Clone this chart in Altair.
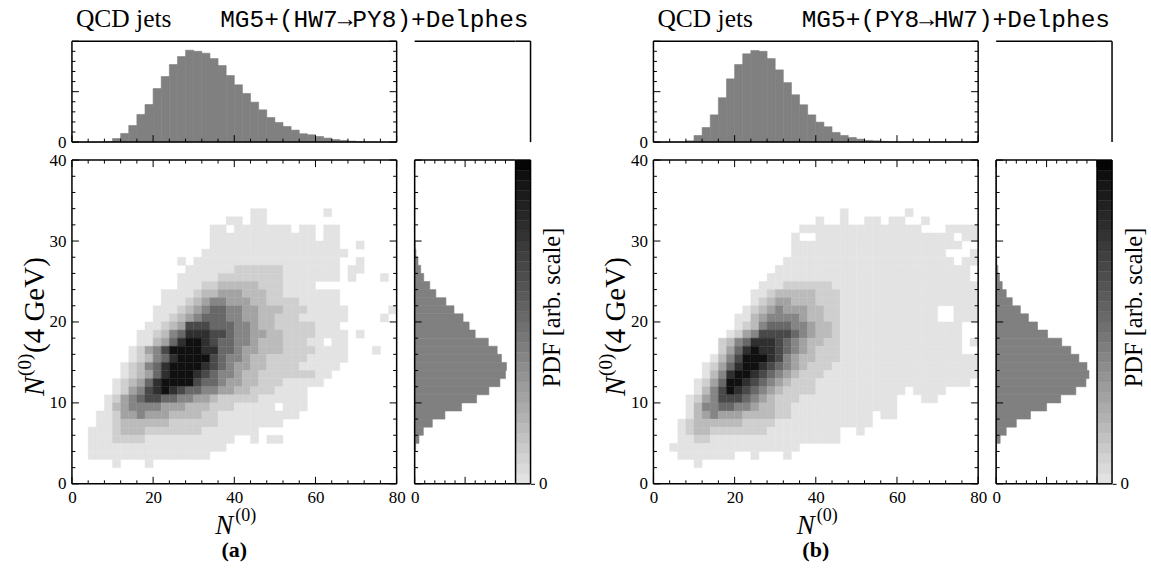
import altair as alt
import pandas as pd

SERIF = "Liberation Serif"
MONO = "Liberation Mono"

# ---------------- data ----------------
# grey levels of the 2D histogram cells (0 = empty, 9 = black)
LEVELS = [0.0, 0.01, 0.09, 0.17, 0.27, 0.39, 0.52, 0.66, 0.79, 0.95]

# rows from N(4GeV)=39..40 (top) down to 0..1 (bottom); 40 columns of width 2 in N
HEAT_A = [
    "0000000000000000000000000000000000000000",
    "0000000000000000000000000000000000000000",
    "0000000000000000000000000000000000000000",
    "0000000000000000000000000000000000000000",
    "0000000000000000000000000000000000000000",
    "0000000000000000000000000000000000000000",
    "0000000000000000000000110000000100000000",
    "0000000000000000000110110000000000000000",
    "0000000000000000011011111110110110000000",
    "0000000000000000011111111111110110000000",
    "0000000000000000011111111111111110010000",
    "0000000000000000111111111111111111000000",
    "0000000000000101111111111111111110010000",
    "0000000000000011111122222211111110110000",
    "0000000000000111112222222211111110100010",
    "0000000000000111223333322211110000000000",
    "0000000000011112334443332211111110000000",
    "0000000000011123455444332222111110000000",
    "0000000000111234566554433322211111000001",
    "0000000000112345666554433222111111000010",
    "0000000001123477766655433222221110000000",
    "0000000011235688877655443322221111010000",
    "0000000011346899876655433322211011000000",
    "0000000124579999886654433322221111000100",
    "0000000123568999976554332222211111000000",
    "0000001235689999876544332222111110000000",
    "0000001234689998765543322222221100000000",
    "0000012346899997665443322211111000000000",
    "0000012457898766554433222111100000000000",
    "0000124567766554432222211111100000000000",
    "0000134555544433322211111011100000000000",
    "0001124454443333221111111111000000000000",
    "0001123333332222221111111100000000000000",
    "0011123332222222111111100000000000000000",
    "0011122221111111111100101100000000000000",
    "0011111111111111111000000000000000000000",
    "0011111111111111100000000000000000000000",
    "0000010001000000000000000000000000000000",
    "0000000000000000000000000000000000000000",
    "0000000000000000000000000000000000000000",
]

HEAT_B = [
    "0000000000000000000000000000000000000000",
    "0000000000000000000000000000000000000000",
    "0000000000000000000000000000000000000000",
    "0000000000000000000000000000000000000000",
    "0000000000000000000000000000000000000000",
    "0000000000000000000000000000000000000000",
    "0000000000000000000000010000000100000000",
    "0000000000000000000010010011011001000000",
    "0000000000000000001111111111111110001111",
    "0000000000000000010011111111111111111011",
    "0000000000000000011111111111111111111100",
    "0000000000000000011111111111111111110001",
    "0000000000000000111111111111111111111011",
    "0000000000000001111111111111111111111110",
    "0000000000000011111111111111111111111110",
    "0000000000000111222222111111111111111111",
    "0000000000001123333322211111111111111111",
    "0000000000001234433322211111111111111111",
    "0000000000012345444332211111111111100111",
    "0000000000113455554332211111111111100111",
    "0000000000123566655433211111111111111100",
    "0000000001245777765433211111111111111100",
    "0000000023568887654332211111111111111101",
    "0000000024689887654322211111111111111100",
    "0000000135799987543322211111111111111111",
    "0000001246899876543222111111111111111111",
    "0000001358998765432221111111111111111111",
    "0000012469987654322211111111111111111110",
    "0000013579876543222211111111111011110000",
    "0000124577765432221111111111110001100000",
    "0000135566554332211111111111110000000000",
    "0000134544433332211111111110110000000000",
    "0001233333322221111111111110000000000000",
    "0001233222222211111111100100000000000000",
    "0001122111111111111111100000000000000000",
    "0011111111111111110000000000000000000000",
    "0001111111001000100000000000000000000000",
    "0000010000000000000000000000000000000000",
    "0000000000000000000000000000000000000000",
    "0000000000000000000000000000000000000000",
]

# marginal histograms (fraction of the panel height / width), 40 bins each
TOP_A = [0, 0, 0, 0, 0.007, 0.036, 0.086, 0.165, 0.274, 0.373,
         0.531, 0.65, 0.769, 0.848, 0.911, 0.90, 0.881, 0.828, 0.759, 0.66,
         0.568, 0.482, 0.396, 0.32, 0.244, 0.195, 0.155, 0.119, 0.083, 0.073,
         0.056, 0.04, 0.026, 0.017, 0.01, 0.004, 0, 0, 0, 0]
TOP_B = [0, 0, 0, 0, 0.013, 0.066, 0.145, 0.27, 0.44, 0.627,
         0.769, 0.875, 0.908, 0.90, 0.828, 0.716, 0.59, 0.469, 0.37, 0.27,
         0.198, 0.152, 0.096, 0.066, 0.046, 0.03, 0.017, 0.013, 0.007, 0.003,
         0, 0, 0, 0, 0, 0, 0, 0, 0, 0]
RIGHT_A = [0, 0, 0, 0, 0.01, 0.043, 0.086, 0.175, 0.30, 0.465,
           0.614, 0.736, 0.845, 0.90, 0.91, 0.86, 0.818, 0.73, 0.60, 0.54,
           0.48, 0.39, 0.31, 0.21, 0.15, 0.09, 0.06, 0.033, 0.013, 0.005,
           0, 0, 0, 0, 0, 0, 0, 0, 0, 0]
RIGHT_B = [0, 0, 0, 0, 0.005, 0.04, 0.10, 0.20, 0.34, 0.50,
           0.64, 0.79, 0.89, 0.92, 0.90, 0.82, 0.74, 0.65, 0.51, 0.41,
           0.32, 0.24, 0.16, 0.10, 0.06, 0.033, 0.017, 0.007, 0.003, 0,
           0, 0, 0, 0, 0, 0, 0, 0, 0, 0]

X_BIN_W = 2
Y_BIN_W = 1
X_DOM = [0, 80]
Y_DOM = [0, 40]
M_DOM = [0, 1]

X_MAJOR = [0, 20, 40, 60, 80]
X_MINOR = [4, 8, 12, 16, 24, 28, 32, 36, 44, 48, 52, 56, 64, 68, 72, 76]
Y_MAJOR = [0, 10, 20, 30, 40]
Y_MINOR = [2, 4, 6, 8, 12, 14, 16, 18, 22, 24, 26, 28, 32, 34, 36, 38]
M_MAJOR = [0, 0.5, 1.0]
M_MINOR = [0.1, 0.2, 0.3, 0.4, 0.6, 0.7, 0.8, 0.9]

TITLES = ["MG5+(HW7\u2192PY8)+Delphes", "MG5+(PY8\u2192HW7)+Delphes"]
LABELS = ["(a)", "(b)"]
CBAR_TITLE = "PDF [arb. scale]"

# ---------------- layout sizes ----------------
W, H = 325, 324      # main panel
HM = 101             # marginal size
CB = 15              # colour bar width
GAP = 18
PANEL_GAP = 123
MAJ, MIN = 7, 3.5
FRAME_W = 1.5
LBL = 17

GREY_SCALE = alt.Scale(domain=[0, 1], range=["#e6e6e6", "#000000"])
BAR_GREY = "#808080"
NO_STROKE = alt.ViewBackground(stroke=None)
ONE = pd.DataFrame({"a": [0]})


def lab_axis(values, pad, **kw):
    return alt.Axis(values=values, ticks=False, domain=False, grid=False,
                    labelPadding=pad, title=None, labelFlush=False,
                    labelFont=SERIF, labelFontSize=LBL, labelColor="black",
                    **kw)


AX_MAIN_X = lab_axis(X_MAJOR, 6)
AX_MAIN_Y = lab_axis(Y_MAJOR, 6)
AX_TOP_Y = lab_axis([0], 6)
AX_RIGHT_X = lab_axis([0], 6)


def heat_df(rows):
    recs = []
    n = len(rows)
    for k, row in enumerate(rows):
        y0 = (n - 1 - k) * Y_BIN_W
        for c, ch in enumerate(row):
            d = int(ch)
            if d:
                recs.append(dict(x0=c * X_BIN_W, x1=(c + 1) * X_BIN_W,
                                 y0=y0, y1=y0 + Y_BIN_W, v=LEVELS[d]))
    return pd.DataFrame(recs)


def xticks(vals, L, hgt, dom, side, axis=None):
    y, y2 = (hgt, hgt - L) if side == "bottom" else (0, L)
    return alt.Chart(pd.DataFrame({"x0": vals})).mark_rule(
        color="black", strokeWidth=1).encode(
        x=alt.X("x0:Q", scale=alt.Scale(domain=dom), axis=axis),
        y=alt.value(y), y2=alt.value(y2))


def yticks(vals, L, wid, dom, side, axis=None):
    x, x2 = (0, L) if side == "left" else (wid, wid - L)
    return alt.Chart(pd.DataFrame({"y0": vals})).mark_rule(
        color="black", strokeWidth=1).encode(
        y=alt.Y("y0:Q", scale=alt.Scale(domain=dom), axis=axis),
        x=alt.value(x), x2=alt.value(x2))


def txt(s, x, y, size, font=SERIF, style="normal", weight="normal",
        align="left", baseline="alphabetic", angle=0):
    return alt.Chart(pd.DataFrame({"t": [s]})).mark_text(
        font=font, fontSize=size, fontStyle=style, fontWeight=weight,
        align=align, baseline=baseline, angle=angle, color="black").encode(
        text="t:N", x=alt.value(x), y=alt.value(y))


def spacer(w, h):
    return alt.Chart(ONE).mark_point(opacity=0).encode(
        x=alt.value(0), y=alt.value(0)).properties(width=w, height=h,
                                                   view=NO_STROKE)


def hrule(x0, x1, y):
    return alt.Chart(ONE).mark_rule(color="black", strokeWidth=FRAME_W).encode(
        x=alt.value(x0), x2=alt.value(x1), y=alt.value(y))


def vrule(x, y0, y1):
    return alt.Chart(ONE).mark_rule(color="black", strokeWidth=FRAME_W).encode(
        x=alt.value(x), y=alt.value(y0), y2=alt.value(y1))


def frame(w, h, sides="tblr"):
    out = []
    if "t" in sides:
        out.append(hrule(0, w, 0))
    if "b" in sides:
        out.append(hrule(0, w, h))
    if "l" in sides:
        out.append(vrule(0, 0, h))
    if "r" in sides:
        out.append(vrule(w, 0, h))
    return out


def panel(heat_rows, top_vals, right_vals, title, label):
    # ---- top marginal ----
    tdf = pd.DataFrame({"x0": [i * X_BIN_W for i in range(40)],
                        "x1": [(i + 1) * X_BIN_W for i in range(40)],
                        "v": top_vals, "y0": [0] * 40})
    top_bars = alt.Chart(tdf).mark_rect(
        color=BAR_GREY, stroke=BAR_GREY, strokeWidth=0.6).encode(
        x=alt.X("x0:Q", scale=alt.Scale(domain=X_DOM), axis=None),
        x2="x1:Q",
        y=alt.Y("y0:Q", scale=alt.Scale(domain=M_DOM), axis=AX_TOP_Y),
        y2="v:Q")
    top = alt.layer(
        top_bars,
        xticks(X_MAJOR, MAJ, HM, X_DOM, "bottom"),
        xticks(X_MINOR, MIN, HM, X_DOM, "bottom"),
        yticks(M_MAJOR, MAJ, W, M_DOM, "left", AX_TOP_Y),
        yticks(M_MINOR, MIN, W, M_DOM, "left", AX_TOP_Y),
        yticks(M_MAJOR, MAJ, W, M_DOM, "right", AX_TOP_Y),
        yticks(M_MINOR, MIN, W, M_DOM, "right", AX_TOP_Y),
        *frame(W, HM),
        txt("QCD jets", 4, -14, 25.5),
        txt(title, 457, -14, 24.5, font=MONO, align="right"),
    ).properties(width=W, height=HM, view=NO_STROKE)

    corner_l = hrule(0, HM, 0).properties(width=HM, height=HM, view=NO_STROKE)
    corner_r = alt.layer(hrule(0, CB, 0), vrule(CB, 0, HM)).properties(
        width=CB, height=HM, view=NO_STROKE)

    # ---- main 2D histogram ----
    hdf = heat_df(heat_rows)
    heat = alt.Chart(hdf).mark_rect(strokeWidth=0.4).encode(
        x=alt.X("x0:Q", scale=alt.Scale(domain=X_DOM), axis=AX_MAIN_X),
        x2="x1:Q",
        y=alt.Y("y0:Q", scale=alt.Scale(domain=Y_DOM), axis=AX_MAIN_Y),
        y2="y1:Q",
        color=alt.Color("v:Q", scale=GREY_SCALE, legend=None),
        stroke=alt.Stroke("v:Q", scale=GREY_SCALE, legend=None))
    main = alt.layer(
        heat,
        xticks(X_MAJOR, MAJ, H, X_DOM, "bottom", AX_MAIN_X),
        xticks(X_MINOR, MIN, H, X_DOM, "bottom", AX_MAIN_X),
        xticks(X_MAJOR, MAJ, H, X_DOM, "top", AX_MAIN_X),
        xticks(X_MINOR, MIN, H, X_DOM, "top", AX_MAIN_X),
        yticks(Y_MAJOR, MAJ, W, Y_DOM, "left", AX_MAIN_Y),
        yticks(Y_MINOR, MIN, W, Y_DOM, "left", AX_MAIN_Y),
        yticks(Y_MAJOR, MAJ, W, Y_DOM, "right", AX_MAIN_Y),
        yticks(Y_MINOR, MIN, W, Y_DOM, "right", AX_MAIN_Y),
        *frame(W, H),
        # x title  N^(0)
        txt("N", W / 2 - 1, 374, 27, style="italic", align="right"),
        txt("(0)", W / 2 + 1, 361, 18, align="left"),
        # y title  N^(0)(4 GeV)
        txt("N", -28, 236, 29, style="italic", angle=270),
        txt("(0)", -41, 216, 19, angle=270),
        txt("(4 GeV)", -28, 193, 29, angle=270),
        # panel label
        txt(label, W / 2, 397, 22, weight="bold", align="center"),
    ).properties(width=W, height=H, view=NO_STROKE)

    # ---- right marginal ----
    rdf = pd.DataFrame({"y0": [i * Y_BIN_W for i in range(40)],
                        "y1": [(i + 1) * Y_BIN_W for i in range(40)],
                        "v": right_vals, "x0": [0] * 40})
    right_bars = alt.Chart(rdf).mark_rect(
        color=BAR_GREY, stroke=BAR_GREY, strokeWidth=0.6).encode(
        y=alt.Y("y0:Q", scale=alt.Scale(domain=Y_DOM), axis=None),
        y2="y1:Q",
        x=alt.X("x0:Q", scale=alt.Scale(domain=M_DOM), axis=AX_RIGHT_X),
        x2="v:Q")
    right = alt.layer(
        right_bars,
        xticks(M_MAJOR, MAJ, H, M_DOM, "bottom", AX_RIGHT_X),
        xticks(M_MINOR, MIN, H, M_DOM, "bottom", AX_RIGHT_X),
        xticks(M_MAJOR, MAJ, H, M_DOM, "top", AX_RIGHT_X),
        xticks(M_MINOR, MIN, H, M_DOM, "top", AX_RIGHT_X),
        yticks(Y_MAJOR, MAJ, HM, Y_DOM, "left"),
        yticks(Y_MINOR, MIN, HM, Y_DOM, "left"),
        *frame(HM, H, "tbl"),
    ).properties(width=HM, height=H, view=NO_STROKE)

    # ---- colour bar ----
    nb = 32
    cdf = pd.DataFrame({"y0": [i / nb for i in range(nb)],
                        "y1": [(i + 1) / nb for i in range(nb)],
                        "v": [(i + 0.5) / nb for i in range(nb)]})
    cbar_rect = alt.Chart(cdf).mark_rect(strokeWidth=0.4).encode(
        y=alt.Y("y0:Q", scale=alt.Scale(domain=[0, 1]),
                axis=alt.Axis(orient="right", values=[0], tickSize=4,
                              tickColor="black", tickWidth=1,
                              domain=False, grid=False, labelPadding=4,
                              labelFont=SERIF, labelFontSize=LBL,
                              labelColor="black",
                              title=CBAR_TITLE, titleAngle=270,
                              titleFont=SERIF, titleFontSize=24.5,
                              titleFontWeight="normal", titleColor="black",
                              titleX=10, titleY=147,
                              titleAlign="center", titleBaseline="top")),
        y2="y1:Q",
        x=alt.value(0), x2=alt.value(CB),
        color=alt.Color("v:Q", scale=GREY_SCALE, legend=None),
        stroke=alt.Stroke("v:Q", scale=GREY_SCALE, legend=None))
    cbar = alt.layer(cbar_rect, *frame(CB, H)).properties(
        width=CB, height=H, view=NO_STROKE)

    row1 = [top, spacer(GAP, HM), corner_l, corner_r]
    row2 = [main, spacer(GAP, H), right, cbar]
    return row1, row2


a1, a2 = panel(HEAT_A, TOP_A, RIGHT_A, TITLES[0], LABELS[0])
b1, b2 = panel(HEAT_B, TOP_B, RIGHT_B, TITLES[1], LABELS[1])

cells = (a1 + [spacer(PANEL_GAP, HM)] + b1 +
         a2 + [spacer(PANEL_GAP, H)] + b2)

chart = alt.concat(*cells, columns=9, spacing={"row": GAP, "column": 0},
                   bounds="flush").properties(
    padding={"left": 16, "top": 7, "right": 5, "bottom": 5},
    background="white"
).configure_axis(
    labelFont=SERIF, labelFontSize=LBL, labelColor="black"
)

chart.save("out.html", embed_options={"renderer": "svg", "actions": False})
